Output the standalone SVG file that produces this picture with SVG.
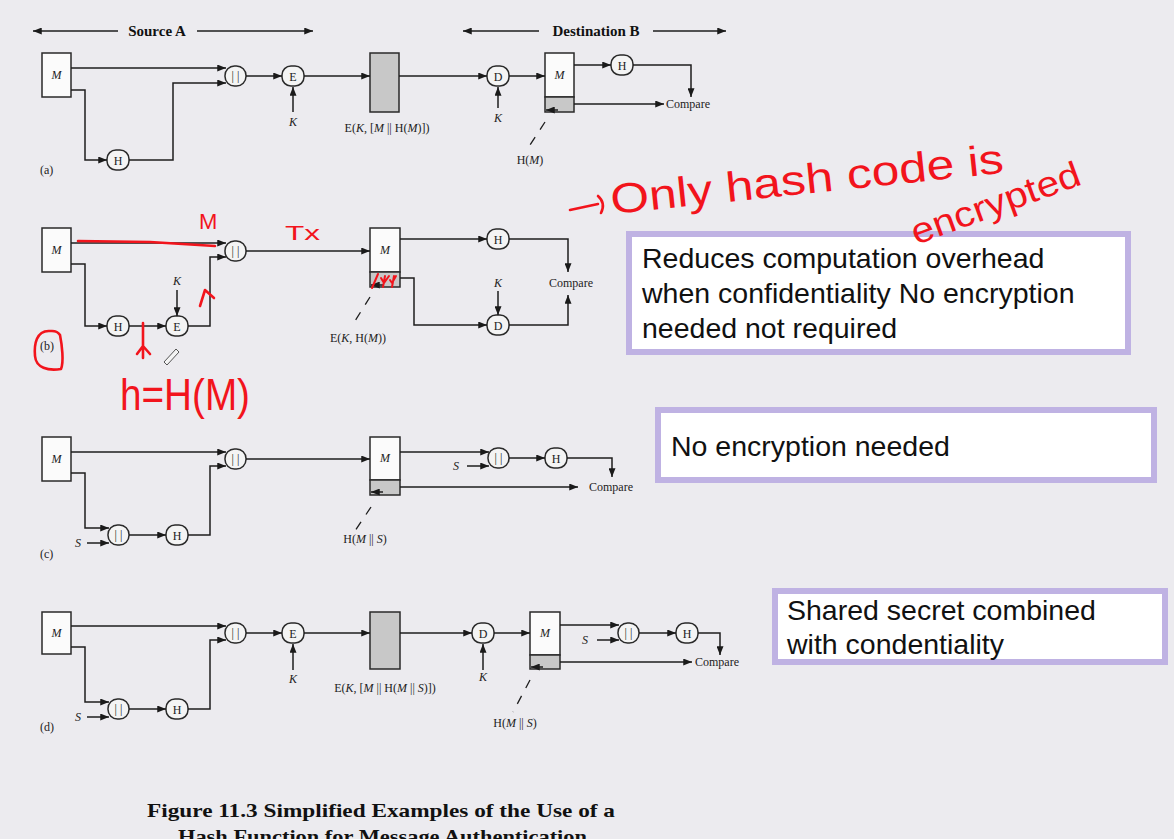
<svg xmlns="http://www.w3.org/2000/svg" width="1174" height="839" viewBox="0 0 1174 839">
<defs>
<marker id="ah" viewBox="0 0 10 8" refX="10" refY="4" markerWidth="9" markerHeight="7" markerUnits="userSpaceOnUse" orient="auto"><path d="M0,0 L10,4 L0,8 z" fill="#1a1a1a"/></marker>
<marker id="ahs" viewBox="0 0 10 8" refX="0" refY="4" markerWidth="9" markerHeight="7" markerUnits="userSpaceOnUse" orient="auto"><path d="M10,0 L0,4 L10,8 z" fill="#1a1a1a"/></marker>
</defs>
<style>
.bg{fill:#ecebef}
.ln{fill:none;stroke:#1e1e1e;stroke-width:1.5}
.arr{fill:none;stroke:#1e1e1e;stroke-width:1.5;marker-end:url(#ah)}
.dash{fill:none;stroke:#1e1e1e;stroke-width:1.3;stroke-dasharray:9 9}
.box{fill:#fbfbfb;stroke:#2a2a2a;stroke-width:1.5}
.gray{fill:#c8c8c8;stroke:#2a2a2a;stroke-width:1.5}
.nd{fill:#f4f4f4;stroke:#2a2a2a;stroke-width:1.5}
.t{font-family:"Liberation Serif","Times New Roman",serif;font-size:12px;fill:#222}
.c{text-anchor:middle}
.i{font-style:italic}
.hd{font-family:"Liberation Serif","Times New Roman",serif;font-size:15px;font-weight:bold;fill:#111;text-anchor:middle}
.note{fill:#ffffff;stroke:#bfb2e3;stroke-width:6}
.nt{font-family:"Liberation Sans",Arial,sans-serif;font-size:28.5px;fill:#111}
.red{fill:none;stroke:#f2141c;stroke-width:2.6;stroke-linecap:round;stroke-linejoin:round}
.rt{font-family:"Liberation Sans",Arial,sans-serif;fill:#f2141c}
.cap{font-family:"Liberation Serif","Times New Roman",serif;font-size:19px;font-weight:bold;fill:#111}
</style>
<rect class="bg" x="0" y="0" width="1174" height="839"/>

<!-- headers -->
<g id="hdr-source">
<line class="ln" x1="33" y1="31" x2="118" y2="31" style="marker-start:url(#ahs)"/>
<line class="ln" x1="197" y1="31" x2="313" y2="31" style="marker-end:url(#ah)"/>
<text class="hd" x="157" y="36">Source A</text>
</g>
<g id="hdr-dest">
<line class="ln" x1="463" y1="31" x2="539" y2="31" style="marker-start:url(#ahs)"/>
<line class="ln" x1="653" y1="31" x2="726" y2="31" style="marker-end:url(#ah)"/>
<text class="hd" x="596" y="36">Destination B</text>
</g>

<!-- row (a) nodes -->
<g id="a-M"><rect class="box" x="42" y="53" width="29" height="44"/><text class="t c i" x="56.5" y="79">M</text></g>
<g id="a-H"><rect class="nd" x="107" y="150" width="22" height="20" rx="9"/><text class="t c" x="118" y="164.5">H</text></g>
<g id="a-cat"><rect class="nd" x="225" y="66" width="21" height="20" rx="9.5"/><text class="t c" x="235.5" y="80">| |</text></g>
<g id="a-E"><rect class="nd" x="282" y="66" width="22" height="20" rx="9"/><text class="t c" x="293" y="80.5">E</text></g>
<g id="a-K1"><text class="t c i" x="293" y="126">K</text></g>
<g id="a-ct"><rect class="gray" x="370" y="53" width="29" height="59"/><text class="t c" x="387" y="132"><tspan>E(</tspan><tspan class="i">K</tspan><tspan>, [</tspan><tspan class="i">M</tspan><tspan> || H(</tspan><tspan class="i">M</tspan><tspan>)])</tspan></text></g>
<g id="a-D"><rect class="nd" x="487" y="66" width="22" height="20" rx="9"/><text class="t c" x="498" y="80.5">D</text></g>
<g id="a-K2"><text class="t c i" x="498" y="122">K</text></g>
<g id="a-Mdst"><rect class="box" x="545" y="53" width="29" height="44"/><rect class="gray" x="545" y="97" width="29" height="15"/><text class="t c i" x="559.5" y="79">M</text></g>
<g id="a-H2"><rect class="nd" x="611" y="55" width="22" height="20" rx="9"/><text class="t c" x="622" y="69.5">H</text></g>
<g id="a-cmp"><text class="t" x="666" y="108">Compare</text></g>
<g id="a-HM"><text class="t c" x="530" y="164"><tspan>H(</tspan><tspan class="i">M</tspan><tspan>)</tspan></text></g>
<g id="a-lbl"><text class="t" x="40" y="174">(a)</text></g>

<!-- row (b) nodes -->
<g id="b-M"><rect class="box" x="42" y="228" width="29" height="44"/><text class="t c i" x="56.5" y="254">M</text></g>
<g id="b-H"><rect class="nd" x="107" y="316" width="22" height="20" rx="9"/><text class="t c" x="118" y="330.5">H</text></g>
<g id="b-E"><rect class="nd" x="166" y="316" width="22" height="20" rx="9"/><text class="t c" x="177" y="330.5">E</text></g>
<g id="b-K1"><text class="t c i" x="177" y="285">K</text></g>
<g id="b-cat"><rect class="nd" x="225" y="241" width="21" height="20" rx="9.5"/><text class="t c" x="235.5" y="255">| |</text></g>
<g id="b-Mdst"><rect class="box" x="370" y="228" width="30" height="44"/><rect class="gray" x="370" y="272" width="30" height="15"/><text class="t c i" x="385" y="254">M</text></g>
<g id="b-H2"><rect class="nd" x="487" y="229" width="22" height="20" rx="9"/><text class="t c" x="498" y="243.5">H</text></g>
<g id="b-D"><rect class="nd" x="487" y="315" width="22" height="20" rx="9"/><text class="t c" x="498" y="329.5">D</text></g>
<g id="b-K2"><text class="t c i" x="498" y="287">K</text></g>
<g id="b-cmp"><text class="t c" x="571" y="287">Compare</text></g>
<g id="b-EKH"><text class="t c" x="358" y="342"><tspan>E(</tspan><tspan class="i">K</tspan><tspan>, H(</tspan><tspan class="i">M</tspan><tspan>))</tspan></text></g>
<g id="b-lbl"><text class="t" x="40" y="350">(b)</text></g>

<!-- row (c) nodes -->
<g id="c-M"><rect class="box" x="42" y="437" width="29" height="44"/><text class="t c i" x="56.5" y="463">M</text></g>
<g id="c-cat1"><rect class="nd" x="108" y="525" width="21" height="20" rx="9.5"/><text class="t c" x="118.5" y="539">| |</text></g>
<g id="c-S1"><text class="t c i" x="78" y="547">S</text></g>
<g id="c-H"><rect class="nd" x="166" y="525" width="22" height="20" rx="9"/><text class="t c" x="177" y="539.5">H</text></g>
<g id="c-cat2"><rect class="nd" x="225" y="449" width="21" height="20" rx="9.5"/><text class="t c" x="235.5" y="463">| |</text></g>
<g id="c-Mdst"><rect class="box" x="370" y="437" width="30" height="43"/><rect class="gray" x="370" y="480" width="30" height="15"/><text class="t c i" x="385" y="462">M</text></g>
<g id="c-S2"><text class="t c i" x="456" y="470">S</text></g>
<g id="c-cat3"><rect class="nd" x="488" y="448" width="21" height="20" rx="9.5"/><text class="t c" x="498.5" y="462">| |</text></g>
<g id="c-H2"><rect class="nd" x="545" y="448" width="22" height="20" rx="9"/><text class="t c" x="556" y="462.5">H</text></g>
<g id="c-cmp"><text class="t" x="589" y="491">Compare</text></g>
<g id="c-HMS"><text class="t c" x="365" y="543"><tspan>H(</tspan><tspan class="i">M</tspan><tspan> || </tspan><tspan class="i">S</tspan><tspan>)</tspan></text></g>
<g id="c-lbl"><text class="t" x="40" y="558">(c)</text></g>

<!-- row (d) nodes -->
<g id="d-M"><rect class="box" x="42" y="612" width="29" height="42"/><text class="t c i" x="56.5" y="637">M</text></g>
<g id="d-cat1"><rect class="nd" x="108" y="699" width="21" height="20" rx="9.5"/><text class="t c" x="118.5" y="713">| |</text></g>
<g id="d-S1"><text class="t c i" x="78" y="721">S</text></g>
<g id="d-H"><rect class="nd" x="166" y="699" width="22" height="20" rx="9"/><text class="t c" x="177" y="713.5">H</text></g>
<g id="d-cat2"><rect class="nd" x="225" y="623" width="21" height="20" rx="9.5"/><text class="t c" x="235.5" y="637">| |</text></g>
<g id="d-E"><rect class="nd" x="282" y="623" width="22" height="20" rx="9"/><text class="t c" x="293" y="637.5">E</text></g>
<g id="d-K1"><text class="t c i" x="293" y="683">K</text></g>
<g id="d-ct"><rect class="gray" x="370" y="612" width="30" height="57"/><text class="t c" x="385" y="692"><tspan>E(</tspan><tspan class="i">K</tspan><tspan>, [</tspan><tspan class="i">M</tspan><tspan> || H(</tspan><tspan class="i">M</tspan><tspan> || </tspan><tspan class="i">S</tspan><tspan>)])</tspan></text></g>
<g id="d-D"><rect class="nd" x="472" y="623" width="22" height="20" rx="9"/><text class="t c" x="483" y="637.5">D</text></g>
<g id="d-K2"><text class="t c i" x="483" y="681">K</text></g>
<g id="d-Mdst"><rect class="box" x="530" y="612" width="30" height="43"/><rect class="gray" x="530" y="655" width="30" height="14"/><text class="t c i" x="545" y="637">M</text></g>
<g id="d-S2"><text class="t c i" x="585" y="644">S</text></g>
<g id="d-cat3"><rect class="nd" x="618" y="623" width="21" height="20" rx="9.5"/><text class="t c" x="628.5" y="637">| |</text></g>
<g id="d-H2"><rect class="nd" x="676" y="623" width="22" height="20" rx="9"/><text class="t c" x="687" y="637.5">H</text></g>
<g id="d-cmp"><text class="t" x="695" y="666">Compare</text></g>
<g id="d-HMS"><text class="t c" x="515" y="727"><tspan>H(</tspan><tspan class="i">M</tspan><tspan> || </tspan><tspan class="i">S</tspan><tspan>)</tspan></text></g>
<g id="d-lbl"><text class="t" x="40" y="731">(d)</text></g>

<!-- connectors -->
<g id="connectors">
<!-- (a) -->
<path class="arr" d="M71,68 H226"/>
<path class="arr" d="M71,90 H85 V160 H107"/>
<path class="arr" d="M129,160 H173 V83 H226"/>
<path class="arr" d="M246,76 H282"/>
<path class="arr" d="M293,112 V87"/>
<path class="arr" d="M304,76 H370"/>
<path class="arr" d="M399,76 H487"/>
<path class="arr" d="M498,108 V87"/>
<path class="arr" d="M509,76 H545"/>
<path class="arr" d="M574,65 H611"/>
<path class="arr" d="M633,65 H691 V97"/>
<path class="arr" d="M574,104 H664"/>
<path class="arr" d="M558,110 H546"/>
<path class="dash" d="M545,122 L528,148"/>
<!-- (b) -->
<path class="arr" d="M71,243 H226"/>
<path class="arr" d="M71,264 H85 V326 H107"/>
<path class="arr" d="M129,326 H166"/>
<path class="arr" d="M177,290 V316"/>
<path class="arr" d="M188,326 H210 V257 H226"/>
<path class="arr" d="M246,251 H370"/>
<path class="arr" d="M400,239 H487"/>
<path class="arr" d="M509,239 H568 V272"/>
<path class="arr" d="M400,278 H414 V325 H487"/>
<path class="arr" d="M498,291 V315"/>
<path class="arr" d="M509,325 H568 V295"/>
<path class="arr" d="M383,285 H371"/>
<path class="dash" d="M370,297 L355,321"/>
<!-- (c) -->
<path class="arr" d="M71,452 H226"/>
<path class="arr" d="M71,473 H85 V528 H109"/>
<path class="arr" d="M87,543 H109"/>
<path class="arr" d="M129,535 H166"/>
<path class="arr" d="M188,535 H210 V466 H226"/>
<path class="arr" d="M246,459 H370"/>
<path class="arr" d="M400,452 H489"/>
<path class="arr" d="M467,466 H489"/>
<path class="arr" d="M509,458 H545"/>
<path class="arr" d="M567,458 H612 V477"/>
<path class="arr" d="M400,487 H578"/>
<path class="arr" d="M383,492 H371"/>
<path class="dash" d="M371,507 L355,531"/>
<!-- (d) -->
<path class="arr" d="M71,626 H226"/>
<path class="arr" d="M71,647 H85 V702 H109"/>
<path class="arr" d="M87,717 H109"/>
<path class="arr" d="M129,709 H166"/>
<path class="arr" d="M188,709 H210 V640 H226"/>
<path class="arr" d="M246,633 H282"/>
<path class="arr" d="M293,670 V644"/>
<path class="arr" d="M304,633 H370"/>
<path class="arr" d="M400,633 H472"/>
<path class="arr" d="M483,670 V644"/>
<path class="arr" d="M494,633 H530"/>
<path class="arr" d="M560,625 H619"/>
<path class="arr" d="M597,640 H619"/>
<path class="arr" d="M639,633 H676"/>
<path class="arr" d="M698,633 H720 V655"/>
<path class="arr" d="M560,662 H692"/>
<path class="arr" d="M543,667 H531"/>
<path class="dash" d="M530,680 L513,712"/>
</g>

<!-- caption -->
<g id="caption">
<text class="cap" x="147" y="817" textLength="468" lengthAdjust="spacingAndGlyphs">Figure 11.3  Simplified Examples of the Use of a</text>
<text class="cap" x="178" y="843" textLength="409" lengthAdjust="spacingAndGlyphs">Hash Function for Message Authentication</text>
</g>

<!-- note boxes -->
<g id="note1">
<rect class="note" x="629" y="234" width="499" height="118"/>
<text class="nt" x="642" y="268">Reduces computation overhead</text>
<text class="nt" x="642" y="303">when confidentiality No encryption</text>
<text class="nt" x="642" y="338">needed not required</text>
</g>
<g id="note2">
<rect class="note" x="658" y="410" width="496" height="70"/>
<text class="nt" x="671" y="456">No encryption needed</text>
</g>
<g id="note3">
<rect class="note" x="775" y="591" width="390" height="71"/>
<text class="nt" x="787" y="620">Shared secret combined</text>
<text class="nt" x="787" y="654">with condentiality</text>
</g>

<!-- handwritten annotations -->
<g id="annot">
<path class="red" d="M570,210 L598,204 M598,196 Q606,203 601,213"/>
<text class="rt" x="612" y="214" font-size="42" textLength="395" lengthAdjust="spacingAndGlyphs" transform="rotate(-6 612 214)">Only hash code is</text>
<text class="rt" x="916" y="245" font-size="36" textLength="178" lengthAdjust="spacingAndGlyphs" transform="rotate(-20 916 245)">encrypted</text>
<path class="red" d="M78,241 L150,242 L215,246"/>
<text class="rt" x="199" y="229" font-size="22">M</text>
<text class="rt" x="285" y="240" font-size="20" textLength="35" lengthAdjust="spacingAndGlyphs">Tx</text>
<path class="red" d="M200,306 L205,290 L214,298"/>
<path class="red" d="M143,323 L143,358 M137,354 L143,346 L150,354"/>
<text class="rt" x="120" y="410" font-size="44" textLength="130" lengthAdjust="spacingAndGlyphs">h=H(M)</text>
<path class="red" d="M50,331 C36,330 34,345 35,356 C36,368 48,371 61,369 C64,362 62,345 60,335 C57,330 53,331 50,331"/>
<path class="red" d="M372,288 L378,274 M381,278 L384,283 L389,276 M385,276 L383,287 M390,280 L392,283 L396,276 M394,276 L392,287" style="stroke-width:2"/>
<path d="M164,362 L176,349 L179,352 L167,365 Z" fill="#f4f4f4" stroke="#555" stroke-width="1"/>
</g>
</svg>
